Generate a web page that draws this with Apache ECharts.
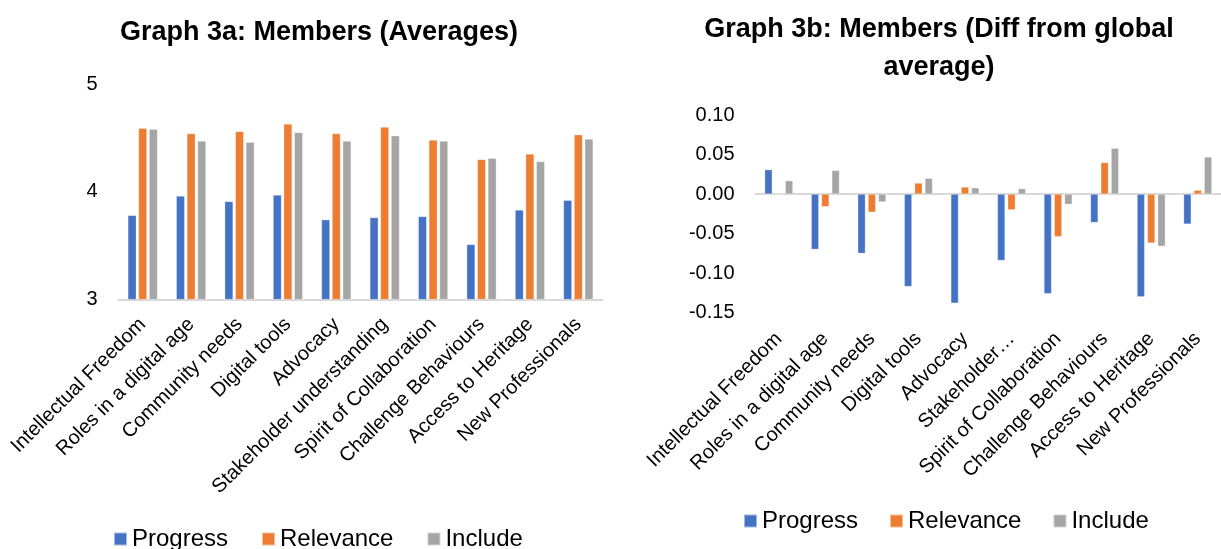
<!DOCTYPE html>
<html>
<head>
<meta charset="utf-8">
<script src="https://cdn.jsdelivr.net/npm/echarts@6/dist/echarts.min.js"></script>
<style>
html,body{margin:0;padding:0;background:#fff;}
#chart{width:1221px;height:549px;}
</style>
</head>
<body>
<div id="chart"></div>
<script>
const categories = ['Intellectual Freedom','Roles in a digital age','Community needs','Digital tools','Advocacy','Stakeholder understanding','Spirit of Collaboration','Challenge Behaviours','Access to Heritage','New Professionals'];
const categoriesB = ['Intellectual Freedom','Roles in a digital age','Community needs','Digital tools','Advocacy','Stakeholder\u2026','Spirit of Collaboration','Challenge Behaviours','Access to Heritage','New Professionals'];
const seriesNames = ['Progress','Relevance','Include'];

const avgProgress  = [3.78,3.96,3.91,3.97,3.74,3.76,3.77,3.51,3.83,3.92];
const avgRelevance = [4.59,4.54,4.56,4.63,4.54,4.60,4.48,4.30,4.35,4.53];
const avgInclude   = [4.58,4.47,4.46,4.55,4.47,4.52,4.47,4.31,4.28,4.49];

const diffProgress  = [0.031,-0.070,-0.075,-0.117,-0.138,-0.084,-0.126,-0.036,-0.130,-0.038];
const diffRelevance = [0.000,-0.016,-0.023,0.014,0.009,-0.020,-0.054,0.040,-0.062,0.005];
const diffInclude   = [0.017,0.030,-0.010,0.020,0.008,0.007,-0.013,0.058,-0.066,0.047];

const yTicksA = [3,4,5];
const yTicksB = [-0.15,0.10];

const colors = ['#4472C4','#ED7D31','#A5A5A5'];
const FONT = 'Liberation Sans';

const chart = echarts.init(document.getElementById('chart'), null, {renderer:'canvas'});

function barSeries(name, data, xi, yi, w, gap, color){
  return {
    name: name, type: 'bar', xAxisIndex: xi, yAxisIndex: yi, data: data,
    barWidth: w, barGap: gap,
    itemStyle: {color: color, borderColor: 'rgba(255,255,255,0.5)', borderWidth: 0.6},
    emphasis: {disabled: true}, animation: false
  };
}

function catLabel(margin){
  return {rotate: 45, fontSize: 20, color: '#000', fontFamily: FONT, margin: margin, interval: 0};
}

const option = {
  animation: false,
  color: colors,
  textStyle: {fontFamily: FONT},
  title: [
    {text: 'Graph 3a: Members (Averages)', left: 314, top: 14, textAlign: 'center',
     textStyle: {fontFamily: FONT, fontWeight: 'bold', fontSize: 27, color: '#000'}},
    {text: 'Graph 3b: Members (Diff from global\naverage)', left: 934, top: 6, textAlign: 'center',
     textStyle: {fontFamily: FONT, fontWeight: 'bold', fontSize: 27, lineHeight: 38, color: '#000'}}
  ],
  legend: [
    {data: seriesNames, left: 108, top: 522, icon: 'rect', itemWidth: 13, itemHeight: 13, itemGap: 33,
     textStyle: {fontFamily: FONT, fontSize: 24, color: '#000'}, selectedMode: false},
    {data: seriesNames, left: 738, top: 504, icon: 'rect', itemWidth: 13, itemHeight: 13, itemGap: 31,
     textStyle: {fontFamily: FONT, fontSize: 24, color: '#000'}, selectedMode: false}
  ],
  grid: [
    {left: 118.5, top: 84, width: 484, height: 215.3, containLabel: false},
    {left: 755.5, top: 115, width: 468, height: 197.7, containLabel: false}
  ],
  xAxis: [
    {type: 'category', gridIndex: 0, data: categories,
     axisLine: {show: true, lineStyle: {color: '#d9d9d9', width: 2}},
     axisTick: {show: false}, axisLabel: catLabel(22), splitLine: {show: false}},
    {type: 'category', gridIndex: 1, data: categoriesB, position: 'bottom',
     axisLine: {show: false, onZero: false},
     axisTick: {show: false}, axisLabel: catLabel(23), splitLine: {show: false}},
    {type: 'category', gridIndex: 1, data: categoriesB, position: 'bottom',
     axisLine: {show: true, onZero: true, lineStyle: {color: '#d9d9d9', width: 2}},
     axisTick: {show: false}, axisLabel: {show: false}, splitLine: {show: false}}
  ],
  yAxis: [
    {type: 'value', gridIndex: 0, min: yTicksA[0], max: yTicksA[yTicksA.length-1], interval: 1,
     axisLine: {show: false}, axisTick: {show: false}, splitLine: {show: false},
     axisLabel: {fontSize: 20, color: '#000', fontFamily: FONT, margin: 21}},
    {type: 'value', gridIndex: 1, min: yTicksB[0], max: yTicksB[1], interval: 0.05,
     axisLine: {show: false}, axisTick: {show: false}, splitLine: {show: false},
     axisLabel: {fontSize: 20, color: '#000', fontFamily: FONT, margin: 21,
       formatter: v => (Math.abs(v) < 1e-9 ? 0 : v).toFixed(2)}}
  ],
  series: [
    barSeries('Progress', avgProgress, 0, 0, 8.5, '25%', colors[0]),
    barSeries('Relevance', avgRelevance, 0, 0, 8.5, '25%', colors[1]),
    barSeries('Include', avgInclude, 0, 0, 8.5, '25%', colors[2]),
    barSeries('Progress', diffProgress, 1, 1, 7.7, '34%', colors[0]),
    barSeries('Relevance', diffRelevance, 1, 1, 7.7, '34%', colors[1]),
    barSeries('Include', diffInclude, 1, 1, 7.7, '34%', colors[2])
  ]
};
chart.setOption(option);
</script>
</body>
</html>
